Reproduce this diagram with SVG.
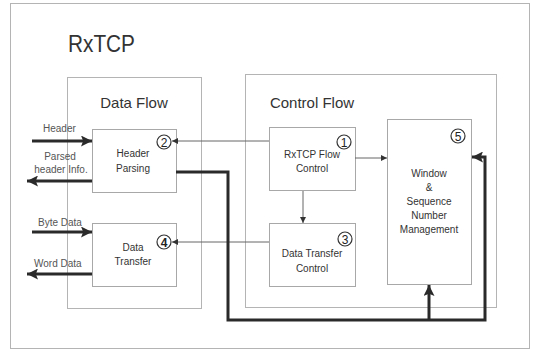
<svg xmlns="http://www.w3.org/2000/svg" width="534" height="350" viewBox="0 0 534 350">
<style>
.frame{fill:none;stroke:#b4b4b4;stroke-width:1}
.box{fill:#fff;stroke:#a8a8a8;stroke-width:1}
.t{font-family:"Liberation Sans",Arial,sans-serif;fill:#333;text-anchor:middle}
.s{font-size:10px}
.lbl{font-family:"Liberation Sans",Arial,sans-serif;font-size:10px;fill:#555}
.h{font-size:15px}
.num{fill:#fff;stroke:#333;stroke-width:1.2}
.nt{font-family:"Liberation Sans",Arial,sans-serif;font-size:12px;fill:#222;text-anchor:middle}
.thin{fill:none;stroke:#666;stroke-width:1}
.thick{fill:none;stroke:#2a2a2a;stroke-width:3}
</style>
<defs>
<marker id="ah" viewBox="0 0 10 10" refX="10" refY="5" markerWidth="6" markerHeight="6" markerUnits="userSpaceOnUse" orient="auto"><path d="M0,0 L10,5 L0,10 Z" fill="#333"/></marker>
<marker id="AH" viewBox="0 0 10 10" refX="10" refY="5" markerWidth="11" markerHeight="11" markerUnits="userSpaceOnUse" orient="auto"><path d="M0,0 L10,5 L0,10 L2,5 Z" fill="#2a2a2a"/></marker>
</defs>
<rect width="534" height="350" fill="#fff"/>
<rect class="frame" x="10.5" y="3.5" width="519" height="345"/>
<text x="68" y="52" font-family="Liberation Sans,Arial,sans-serif" font-size="24" fill="#333" textLength="67" lengthAdjust="spacingAndGlyphs">RxTCP</text>

<g id="data-flow">
<rect class="frame" x="67.5" y="77.5" width="134" height="231"/>
<text class="t h" x="134" y="108">Data Flow</text>
</g>
<g id="control-flow">
<rect class="frame" x="245.5" y="74.5" width="251" height="233"/>
<text class="t h" x="312" y="108">Control Flow</text>
</g>

<g id="header-parsing">
<rect class="box" x="92.5" y="129.5" width="84" height="63"/>
<text class="t s" x="133" y="157">Header</text>
<text class="t s" x="133" y="172">Parsing</text>
<circle class="num" cx="164" cy="142" r="7"/>
<text class="nt" x="164" y="146.5">2</text>
</g>
<g id="data-transfer">
<rect class="box" x="92.5" y="223.5" width="84" height="63"/>
<text class="t s" x="133" y="251">Data</text>
<text class="t s" x="133" y="265">Transfer</text>
<circle class="num" cx="164" cy="242" r="7"/>
<text class="nt" x="164" y="246.5" font-weight="bold">4</text>
</g>
<g id="flow-control">
<rect class="box" x="269.5" y="127.5" width="86" height="63"/>
<text class="t s" x="312" y="158">RxTCP Flow</text>
<text class="t s" x="312" y="172">Control</text>
<circle class="num" cx="344" cy="142" r="7"/>
<text class="nt" x="344" y="146.5">1</text>
</g>
<g id="data-transfer-control">
<rect class="box" x="269.5" y="223.5" width="86" height="63"/>
<text class="t s" x="312" y="257">Data Transfer</text>
<text class="t s" x="312" y="272">Control</text>
<circle class="num" cx="345" cy="239" r="7"/>
<text class="nt" x="345" y="243.5">3</text>
</g>
<g id="window-mgmt">
<rect class="box" x="387.5" y="119.5" width="84" height="165"/>
<text class="t s" x="429" y="177">Window</text>
<text class="t s" x="429" y="191">&amp;</text>
<text class="t s" x="429" y="205">Sequence</text>
<text class="t s" x="429" y="219">Number</text>
<text class="t s" x="429" y="233">Management</text>
<circle class="num" cx="458" cy="136" r="7"/>
<text class="nt" x="458" y="140.5">5</text>
</g>

<g id="connectors">
<path class="thin" d="M269,141 H172" marker-end="url(#ah)"/>
<path class="thin" d="M269,242 H172" marker-end="url(#ah)"/>
<path class="thin" d="M355,158 H387" marker-end="url(#ah)"/>
<path class="thin" d="M303,191 V223" marker-end="url(#ah)"/>
<path class="thick" d="M176,172 H228 V320 H485 V157 H472" marker-end="url(#AH)"/>
<path class="thick" d="M429,320 V285" marker-end="url(#AH)"/>
<path class="thick" d="M32,141 H92" marker-end="url(#AH)"/>
<path class="thick" d="M92,181 H27" marker-end="url(#AH)"/>
<path class="thick" d="M32,232 H92" marker-end="url(#AH)"/>
<path class="thick" d="M92,274 H27" marker-end="url(#AH)"/>
</g>
<text class="lbl" x="43" y="132">Header</text>
<text class="lbl" x="60" y="160" text-anchor="middle">Parsed</text>
<text class="lbl" x="61" y="173" text-anchor="middle">header Info.</text>
<text class="lbl" x="38" y="226">Byte Data</text>
<text class="lbl" x="34" y="267">Word Data</text>
</svg>
